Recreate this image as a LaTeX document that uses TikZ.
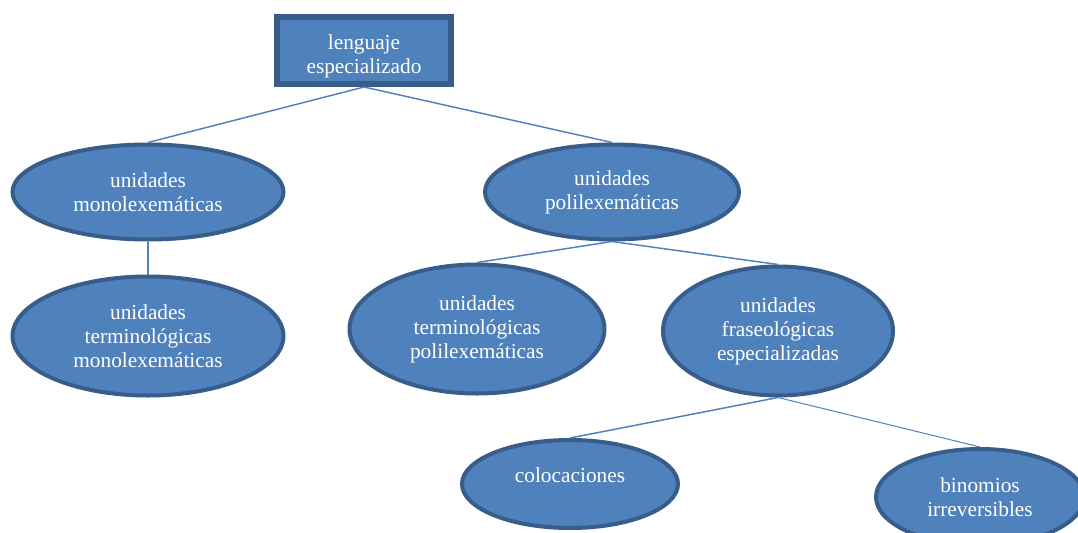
\documentclass[tikz,border=0pt]{standalone}
\usepackage{fontspec}
\setmainfont{Liberation Serif}
\usetikzlibrary{shapes.geometric}
\definecolor{relleno}{HTML}{4F81BD}
\definecolor{borde}{HTML}{385D8A}
\begin{document}
\begin{tikzpicture}[x=.75pt,y=-.75pt,
	caja/.style={draw=borde,fill=relleno,line width=4.5pt,text=white,align=center,inner sep=0pt,font=\fontsize{16}{18}\selectfont},
	elipse/.style={ellipse,draw=borde,fill=relleno,line width=3pt,text=white,align=center,inner sep=0pt,font=\fontsize{16}{18}\selectfont},
	rama/.style={draw=relleno,line width=1.1pt}]
	\useasboundingbox(0,0)rectangle(1078,532);
	\node[caja,minimum width=130.5pt,minimum height=50.25pt](len)at(364,50.5){\rule{0pt}{20pt}lenguaje\\especializado};
	\node[elipse,minimum width=203.25pt,minimum height=71.25pt](mono)at(148,192){unidades\\monolexemáticas};
	\node[elipse,minimum width=190.5pt,minimum height=71.25pt](poli)at(612,192){unidades\\polilexemáticas};
	\node[elipse,minimum width=203.25pt,minimum height=89.25pt](termmono)at(148,336){unidades\\terminológicas\\monolexemáticas};
	\node[elipse,minimum width=191.25pt,minimum height=96.75pt](termpoli)at(477,329){unidades\\terminológicas\\polilexemáticas};
	\node[elipse,minimum width=172.5pt,minimum height=96.75pt](fras)at(778,331){unidades\\fraseológicas\\especializadas};
	\node[elipse,minimum width=162pt,minimum height=66pt](coloc)at(570,484){colocaciones\rule[-13pt]{0pt}{13pt}};
	\node[elipse,minimum width=156pt,minimum height=72pt](bin)at(980,497){binomios\\irreversibles};
	\draw[rama](len.south)--(mono.north);
	\draw[rama](len.south)--(poli.north);
	\draw[rama](mono.south)--(termmono.north);
	\draw[rama](poli.south)--(termpoli.north);
	\draw[rama](poli.south)--(fras.north);
	\draw[rama](fras.south)--(coloc.north);
	\draw[rama,line width=.75pt](fras.south)--(bin.north);
\end{tikzpicture}
\end{document}
